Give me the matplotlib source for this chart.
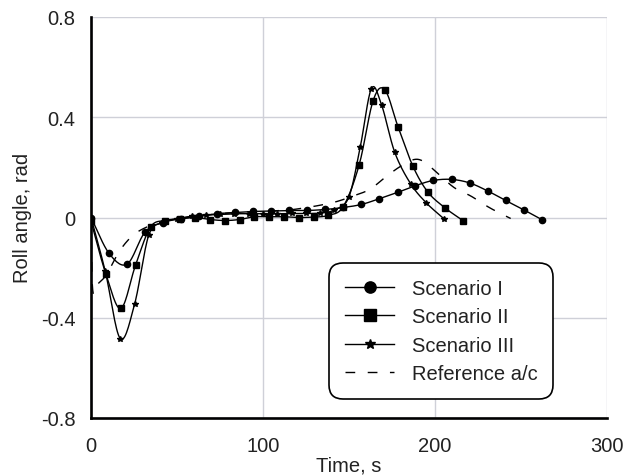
import numpy as np
import matplotlib
matplotlib.use("Agg")
import matplotlib.pyplot as plt

# ---------------- data ----------------
t1 = [0, 10.5, 21, 31.4, 41.9, 52.4, 62.9, 73.4, 83.8, 94.3, 104.8, 115.3, 125.8,
      136.2, 146.7, 157.2, 167.7, 178.2, 188.6, 199.1, 209.6, 220.1, 230.6, 241.0, 251.5, 262.0]
y1 = [0.0, -0.143, -0.186, -0.058, -0.02, -0.005, 0.005, 0.015, 0.02, 0.024, 0.026, 0.028, 0.028,
      0.032, 0.04, 0.052, 0.075, 0.100, 0.127, 0.148, 0.152, 0.138, 0.106, 0.068, 0.031, -0.008]

t2 = [0, 8.6, 17.3, 25.9, 34.6, 43.2, 51.8, 60.5, 69.1, 77.8, 86.4, 95.0, 103.7,
      112.3, 121.0, 129.6, 137.5, 146.6, 155.9, 164.0, 170.8, 178.5, 187.2, 195.9, 206.1, 216.2]
y2 = [-0.015, -0.224, -0.363, -0.19, -0.038, -0.012, -0.005, 0.0, -0.008, -0.012, -0.008, 0.003, 0.003,
      0.003, 0.0, 0.002, 0.008, 0.043, 0.21, 0.466, 0.51, 0.362, 0.204, 0.101, 0.037, -0.012]

t3 = [0, 8.3, 17.0, 25.3, 33.6, 41.9, 50.2, 58.5, 66.8, 75.1, 83.4, 91.7, 100.0,
      108.3, 116.6, 124.9, 133.2, 141.5, 149.8, 156.5, 163.0, 168.9, 176.6, 185.8, 195.0, 205.0]
y3 = [0.0, -0.215, -0.483, -0.347, -0.07, -0.02, -0.005, 0.005, 0.01, 0.012, 0.015, 0.015, 0.015,
      0.015, 0.016, 0.016, 0.018, 0.03, 0.08, 0.28, 0.514, 0.45, 0.26, 0.135, 0.058, -0.004]

tr = [0, 1.0, 4.0, 9.0, 16.0, 23.0, 30.0, 40.0, 55.0, 70.0, 85.0, 100.0, 115.0,
      130.0, 142.0, 152.0, 162.0, 171.0, 179.0, 187.0, 193.0, 201.0, 211.0, 221.0, 232.0, 244.0]
yr = [0.0, -0.29, -0.265, -0.228, -0.14, -0.08, -0.046, -0.02, 0.0, 0.012, 0.02, 0.025, 0.03,
      0.045, 0.062, 0.085, 0.112, 0.16, 0.2, 0.23, 0.225, 0.18, 0.12, 0.085, 0.038, -0.004]

labels = ["Scenario I", "Scenario II", "Scenario III", "Reference a/c"]
xticks = [0, 100, 200, 300]
yticks = [-0.8, -0.4, 0, 0.4, 0.8]
ytick_labels = ["-0.8", "-0.4", "0", "0.4", "0.8"]


def smooth(x, y, n=16):
    """Catmull-Rom curve through the points (display smoothing, like a smoothed line)."""
    P = np.column_stack([np.asarray(x, float), np.asarray(y, float)])
    P = np.vstack([2 * P[0] - P[1], P, 2 * P[-1] - P[-2]])
    out = []
    s = np.linspace(0, 1, n, endpoint=False)[:, None]
    for i in range(1, len(P) - 2):
        p0, p1, p2, p3 = P[i - 1], P[i], P[i + 1], P[i + 2]
        seg = 0.5 * (2 * p1 + (-p0 + p2) * s + (2 * p0 - 5 * p1 + 4 * p2 - p3) * s ** 2
                     + (-p0 + 3 * p1 - 3 * p2 + p3) * s ** 3)
        out.append(seg)
    out.append(P[-2][None, :])
    c = np.vstack(out)
    return c[:, 0], c[:, 1]


plt.rcParams["font.family"] = ["Liberation Sans", "DejaVu Sans"]
fs = 14.5

fig = plt.figure(figsize=(6.33, 4.77), dpi=100)
ax = fig.add_axes([91 / 633, 1 - 419 / 477, (607 - 91) / 633, (419 - 18) / 477])

lw = 1.0
series = [(t1, y1, "o", 4.5), (t2, y2, "s", 4.5), (t3, y3, "*", 3.8)]
handles = []
for (t, y, m, ms), lab in zip(series, labels[:3]):
    sx, sy = smooth(t, y)
    ax.plot(sx, sy, color="black", lw=lw, zorder=3)
    ax.plot(t, y, linestyle="none", marker=m, ms=ms, color="black", zorder=4)
    h, = ax.plot([], [], color="black", lw=lw, marker=m, ms=ms * (1.0 if m != "*" else 1.15), label=lab)
    handles.append(h)

sx, sy = smooth(tr, yr)
hr, = ax.plot(sx, sy, color="black", lw=lw, dashes=(7, 9), zorder=3, label=labels[3])
handles.append(hr)

ax.set_xlim(0, 300)
ax.set_ylim(-0.8, 0.8)
ax.set_xticks(xticks)
ax.set_yticks(yticks)
ax.set_yticklabels(ytick_labels)
ax.grid(True, color="#cfd0d8", lw=1.0)
ax.set_axisbelow(True)
for s in ["top", "right"]:
    ax.spines[s].set_visible(False)
for s in ["left", "bottom"]:
    ax.spines[s].set_linewidth(1.9)
    ax.spines[s].set_zorder(5)
ax.tick_params(axis="both", length=0, labelsize=fs, colors="#222222")
ax.tick_params(axis="x", pad=13)
ax.tick_params(axis="y", pad=11)

fig.text(349 / 633, 1 - 466 / 477, "Time, s", ha="center", va="center", fontsize=fs, color="#222222")
fig.text(23 / 633, 1 - 218 / 477, "Roll angle, rad", ha="center", va="center",
         rotation=90, fontsize=fs, color="#222222")

leg = ax.legend(handles=handles, loc="upper left",
                bbox_to_anchor=(329 / 633, 1 - 264 / 477), bbox_transform=fig.transFigure,
                fontsize=fs, frameon=True, fancybox=True, handlelength=2.45,
                handletextpad=0.85, labelspacing=0.46, markerscale=1.8,
                borderpad=0.8, borderaxespad=0.0)
fr = leg.get_frame()
fr.set_edgecolor("black")
fr.set_linewidth(1.2)
fr.set_facecolor("white")
fr.set_alpha(1.0)
fr.set_boxstyle("round,pad=0.0,rounding_size=0.7")
for txt in leg.get_texts():
    txt.set_color("#222222")

fig.savefig("out.png", dpi=100)
